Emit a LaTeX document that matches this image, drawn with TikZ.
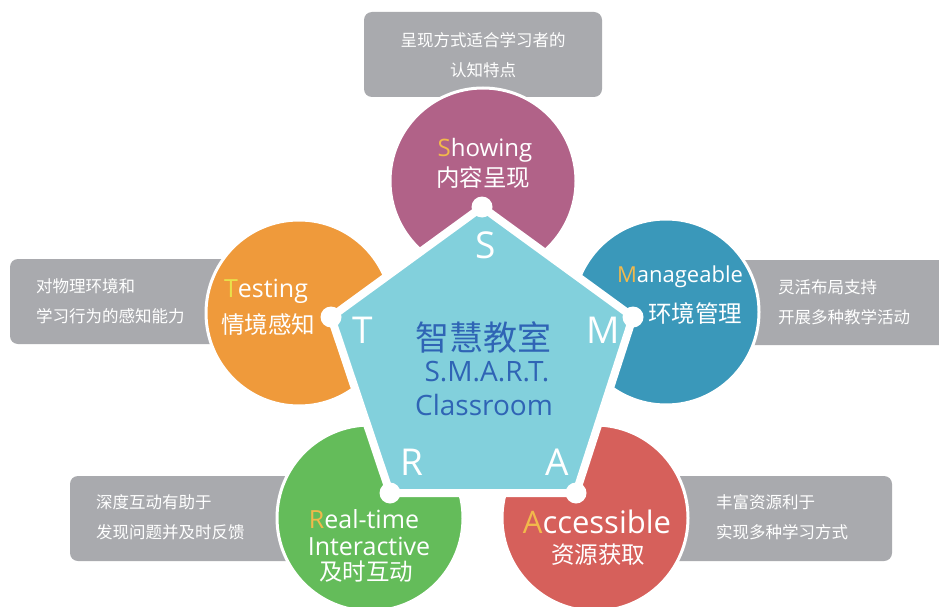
\documentclass[tikz,border=0pt]{standalone}
\usepackage{fontspec}
\setmainfont{Noto Sans CJK SC}
\newfontfamily\lat{Open Sans}
\definecolor{boxgray}{HTML}{A9AAAE}
\definecolor{cmag}{HTML}{B16288}
\definecolor{corange}{HTML}{EF9A3B}
\definecolor{cblue}{HTML}{3A98BA}
\definecolor{cgreen}{HTML}{64BC5A}
\definecolor{cred}{HTML}{D6605B}
\definecolor{pent}{HTML}{82D0DC}
\definecolor{ctext}{HTML}{2F64B5}
\definecolor{yel}{HTML}{F2B94B}
\definecolor{tyel}{HTML}{E9E04A}
\tikzset{
  gbox/.style={fill=boxgray, rounded corners=8pt, inner sep=0pt},
  btext/.style={text=white, inner sep=0pt, font=\fontsize{16.5}{30}\selectfont},
  petal/.style={draw=white, line width=3pt, circle, minimum size=186pt, inner sep=0pt},
  ctitle/.style={text=white, inner sep=0pt},
  cjk/.style={text=white, inner sep=0pt, font=\fontsize{23.5}{26}\selectfont},
  pletter/.style={text=white, inner sep=0pt, font=\lat\fontsize{37}{40}\selectfont},
  vdot/.style={circle, fill=white, minimum size=21pt, inner sep=0pt}
}
\begin{document}
\begin{tikzpicture}[x=1pt,y=-1pt]
\useasboundingbox (0,0) rectangle (939,607);
\fill[white] (0,0) rectangle (939,607);

% gray boxes
\node (bS) [gbox, minimum width=238pt, minimum height=85pt] at (483,54.5) {};
\node (bT) [gbox, minimum width=290pt, minimum height=85pt] at (155,301.5) {};
\node (bM) [gbox, minimum width=360pt, minimum height=85pt] at (780,302.5) {};
\node (bR) [gbox, minimum width=270pt, minimum height=85pt] at (205,518.5) {};
\node (bA) [gbox, minimum width=332pt, minimum height=85pt] at (726,518.5) {};

\node (tbS) [btext, align=center] at (483,55) {呈现方式适合学习者的\\认知特点};
\node (tbT) [btext, align=left, anchor=west] at (36,301) {对物理环境和\\学习行为的感知能力};
\node (tbM) [btext, align=left, anchor=west] at (778,302.5) {灵活布局支持\\开展多种教学活动};
\node (tbR) [btext, align=left, anchor=west] at (96,517.5) {深度互动有助于\\发现问题并及时反馈};
\node (tbA) [btext, align=left, anchor=west] at (716,517.5) {丰富资源利于\\实现多种学习方式};

% petals
\node (cS) [petal, fill=cmag] at (483,181) {};
\node (cT) [petal, fill=corange] at (299,313) {};
\node (cM) [petal, fill=cblue] at (666,312) {};
\node (cR) [petal, fill=cgreen] at (370,518) {};
\node (cA) [petal, fill=cred] at (595,518) {};

% petal labels
\node (lS1) [ctitle, font=\lat\fontsize{24}{26}\selectfont] at (485,150) {\textcolor{yel}{S}howing};
\node (lS2) [cjk] at (483,178) {内容呈现};
\node (lT1) [ctitle, font=\lat\fontsize{25}{27}\selectfont] at (266,291) {\textcolor{tyel}{T}esting};
\node (lT2) [cjk] at (268,325) {情境感知};
\node (lM1) [ctitle, font=\lat\fontsize{22}{24}\selectfont] at (680,277) {\textcolor{yel}{M}anageable};
\node (lM2) [cjk] at (695,314) {环境管理};
\node (lR1) [ctitle, font=\lat\fontsize{25}{27}\selectfont] at (364,519) {\textcolor{yel}{R}eal-time};
\node (lR2) [ctitle, font=\lat\fontsize{25}{27}\selectfont] at (369,546) {Interactive};
\node (lR3) [cjk] at (366,572) {及时互动};
\node (lA1) [ctitle, font=\lat\fontsize{31}{33}\selectfont] at (597,522) {\textcolor{yel}{A}ccessible};
\node (lA2) [cjk] at (598,555) {资源获取};

% pentagon
\coordinate (vS) at (482,207);
\coordinate (vM) at (633,317);
\coordinate (vA) at (576,493);
\coordinate (vR) at (390,493);
\coordinate (vT) at (331,317);
\draw[fill=pent, draw=white, line width=8pt, line join=round] (vS) -- (vM) -- (vA) -- (vR) -- (vT) -- cycle;
\foreach \v in {vS,vM,vA,vR,vT} \node[vdot] at (\v) {};

\node (pS) [pletter] at (486,245) {S};
\node (pT) [pletter] at (363,330) {T};
\node (pM) [pletter] at (603,330) {M};
\node (pR) [pletter] at (412,462) {R};
\node (pA) [pletter] at (557,462) {A};

\node (m1) [text=ctext, inner sep=0pt, font=\fontsize{34}{36}\selectfont] at (483,337) {智慧教室};
\node (m2) [text=ctext, inner sep=0pt, font=\lat\fontsize{28}{30}\selectfont] at (487,372) {S.M.A.R.T.};
\node (m3) [text=ctext, inner sep=0pt, font=\lat\fontsize{28}{30}\selectfont] at (484,405) {Classroom};
\end{tikzpicture}
\end{document}
